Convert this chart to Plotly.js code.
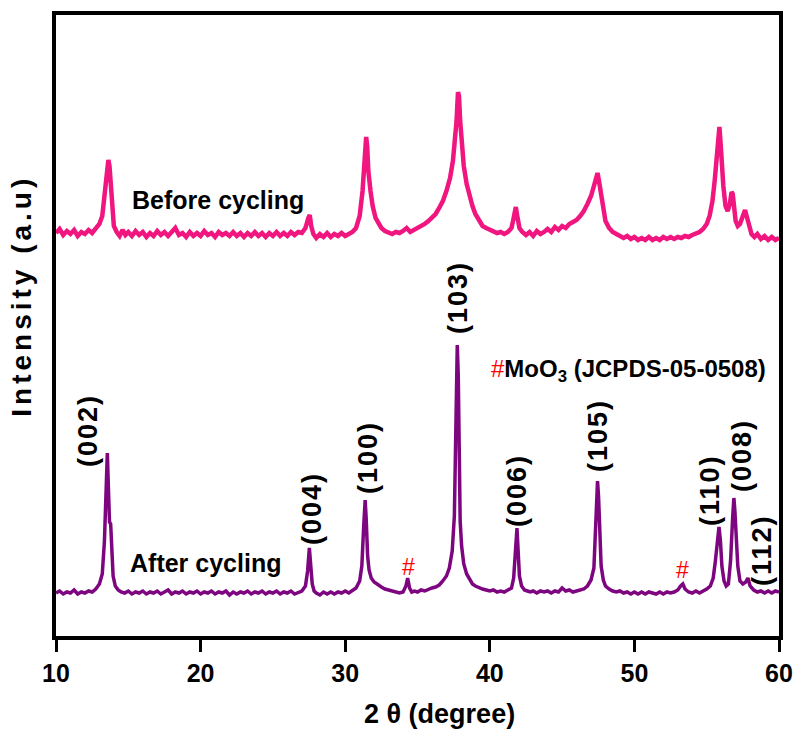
<!DOCTYPE html>
<html>
<head>
<meta charset="utf-8">
<script src="https://cdn.plot.ly/plotly-3.0.1.min.js"></script>
<style>html,body{margin:0;padding:0;background:#fff;}#chart{width:798px;height:731px;}</style>
</head>
<body>
<div id="chart"></div>
<script>
// ---- Data (2θ in degrees, intensity in arbitrary units) ----
var afterX = [10.0,10.25,10.5,10.75,11.0,11.25,11.5,11.75,12.0,12.25,12.5,12.75,13.0,13.2,13.35,13.45,13.55,13.62,13.7,13.78,13.85,13.95,14.1,14.3,14.5,14.75,15.0,15.25,15.5,15.75,16.0,16.25,16.5,16.75,17.0,17.25,17.5,17.75,18.0,18.25,18.5,18.75,19.0,19.25,19.5,19.75,20.0,20.25,20.5,20.75,21.0,21.25,21.5,21.75,22.0,22.25,22.5,22.75,23.0,23.25,23.5,23.75,24.0,24.25,24.5,24.75,25.0,25.25,25.5,25.75,26.0,26.25,26.5,26.75,27.0,27.25,27.4,27.52,27.62,27.72,27.85,28.0,28.25,28.5,28.75,29.0,29.25,29.5,29.75,30.0,30.25,30.5,30.75,31.0,31.15,31.28,31.38,31.45,31.55,31.65,31.8,32.0,32.25,32.5,32.75,33.0,33.25,33.5,33.75,34.0,34.2,34.32,34.45,34.6,34.8,35.0,35.25,35.5,35.75,36.0,36.25,36.5,36.75,37.0,37.2,37.4,37.55,37.65,37.75,37.82,37.88,37.95,38.05,38.2,38.4,38.6,38.8,39.0,39.25,39.5,39.75,40.0,40.25,40.5,40.75,41.0,41.25,41.5,41.65,41.78,41.88,41.96,42.05,42.2,42.4,42.6,42.8,43.0,43.25,43.5,43.75,44.0,44.25,44.5,44.75,45.0,45.25,45.5,45.75,46.0,46.25,46.5,46.75,47.0,47.2,47.35,47.45,47.52,47.6,47.7,47.85,48.0,48.25,48.5,48.75,49.0,49.25,49.5,49.75,50.0,50.25,50.5,50.75,51.0,51.25,51.5,51.75,52.0,52.25,52.5,52.75,53.0,53.2,53.35,53.5,53.75,54.0,54.25,54.5,54.75,55.0,55.25,55.45,55.6,55.75,55.85,55.95,56.05,56.2,56.35,56.5,56.65,56.8,56.88,56.95,57.05,57.15,57.3,57.5,57.7,57.85,58.0,58.25,58.5,58.75,59.0,59.25,59.5,59.75,60.0];
var afterY = [43,45,42,44,43,46,42,44,43,45,44,47,52,62,95,135,183,150,114,112,80,60,50,46,44,43,45,42,44,43,45,42,44,43,45,42,44,46,42,44,43,45,42,44,43,45,42,44,43,45,42,44,43,45,41,44,42,44,43,45,42,44,43,45,42,44,43,45,42,44,43,45,42,44,45,50,65,88,70,52,45,43,41,44,42,44,42,44,43,45,43,46,48,55,70,110,136,118,80,66,58,54,51,49,47,46,45,44,43,44,50,58,48,44,45,44,46,45,47,48,49,51,55,60,68,85,120,200,291,260,180,115,90,72,62,56,52,50,48,47,46,45,46,44,45,44,46,48,58,90,108,85,60,50,46,45,44,45,43,45,44,45,43,45,44,48,45,46,44,45,46,47,50,56,68,110,155,140,100,70,56,50,47,45,44,45,43,44,42,44,42,44,42,44,43,42,44,42,44,43,44,46,50,52,47,44,43,45,43,45,47,50,58,75,100,109,95,70,55,50,52,75,120,138,125,95,70,55,52,54,58,50,46,44,45,43,45,43,45,44];

var beforeX = [10.0,10.25,10.5,10.75,11.0,11.25,11.5,11.75,12.0,12.25,12.5,12.75,13.0,13.2,13.35,13.5,13.62,13.7,13.78,13.88,14.0,14.2,14.4,14.6,14.8,15.0,15.25,15.5,15.75,16.0,16.25,16.5,16.75,17.0,17.25,17.5,17.75,18.0,18.25,18.5,18.75,19.0,19.25,19.5,19.75,20.0,20.25,20.5,20.75,21.0,21.25,21.5,21.75,22.0,22.25,22.5,22.75,23.0,23.25,23.5,23.75,24.0,24.25,24.5,24.75,25.0,25.25,25.5,25.75,26.0,26.25,26.5,26.75,27.0,27.25,27.45,27.55,27.65,27.8,28.0,28.25,28.5,28.75,29.0,29.25,29.5,29.75,30.0,30.25,30.5,30.75,31.0,31.2,31.35,31.45,31.52,31.6,31.75,31.9,32.1,32.3,32.5,32.75,33.0,33.25,33.5,33.75,34.0,34.25,34.5,34.75,35.0,35.25,35.5,35.75,36.0,36.25,36.5,36.75,37.0,37.25,37.45,37.6,37.7,37.8,37.87,37.95,38.05,38.2,38.4,38.6,38.8,39.0,39.25,39.5,39.75,40.0,40.25,40.5,40.75,41.0,41.25,41.5,41.65,41.8,41.9,42.05,42.25,42.5,42.75,43.0,43.25,43.5,43.75,44.0,44.25,44.5,44.75,45.0,45.25,45.5,45.75,46.0,46.25,46.5,46.75,47.0,47.2,47.35,47.45,47.55,47.7,47.85,48.0,48.25,48.5,48.75,49.0,49.25,49.5,49.75,50.0,50.25,50.5,50.75,51.0,51.25,51.5,51.75,52.0,52.25,52.5,52.75,53.0,53.25,53.5,53.75,54.0,54.25,54.5,54.75,55.0,55.2,55.4,55.55,55.7,55.8,55.88,55.95,56.05,56.15,56.3,56.45,56.6,56.72,56.8,56.9,57.0,57.15,57.3,57.5,57.65,57.8,57.95,58.1,58.3,58.5,58.75,59.0,59.25,59.5,59.75,60.0];
var beforeY = [403,407,401,405,402,406,400,404,402,406,403,408,412,420,440,465,476,470,450,425,410,404,400,406,401,404,400,405,401,404,399,403,400,405,401,404,400,404,408,401,403,399,404,400,403,400,405,401,403,399,404,401,403,400,404,400,403,399,403,400,404,400,403,399,403,400,404,400,403,400,404,401,404,403,408,418,421,410,402,398,402,399,403,399,402,400,403,400,402,404,408,420,445,480,499,490,465,445,430,418,412,408,405,404,402,404,403,405,408,404,406,407,409,412,415,418,422,428,435,445,458,475,495,515,544,540,515,490,470,452,440,430,422,416,410,408,406,405,403,404,402,404,408,418,429,420,408,404,401,404,400,405,402,404,407,404,409,406,410,408,412,414,416,420,425,432,440,450,460,463,455,440,425,415,408,404,402,400,398,400,397,399,396,398,396,399,396,398,396,399,397,399,397,399,398,400,399,401,402,404,407,412,420,435,455,485,507,509,495,470,450,430,425,432,444,442,430,415,410,412,420,426,418,408,402,399,402,397,400,396,399,396,398];

var seriesNames = ["After cycling", "Before cycling"];
var xTicks = [10, 20, 30, 40, 50, 60];

// Peak labels (Miller indices) and their anchor positions in data units
var peakLabels = ["(002)", "(004)", "(100)", "(103)", "(006)", "(105)", "(110)", "(008)", "(112)"];
var peakLabelX = [12.21, 27.7, 31.58, 37.8, 41.88, 47.48, 55.23, 57.44, 58.82];
var peakLabelY = [206, 128, 178, 339, 146, 201, 146, 181, 86];
var hashX = [34.35, 53.3];
var hashY = [69, 66];

var narrowFont = "Liberation Sans Narrow, Arial Narrow, Liberation Sans, Arial, sans-serif";
var armFont = "Liberation Sans, Arial, sans-serif";

var traces = [
  {x: beforeX, y: beforeY, type: "scatter", mode: "lines", name: seriesNames[1],
   line: {color: "#F0157F", width: 4.5}, hoverinfo: "skip"},
  {x: afterX, y: afterY, type: "scatter", mode: "lines", name: seriesNames[0],
   line: {color: "#7E0580", width: 3.5}, hoverinfo: "skip"}
];

var annotations = [];
for (var i = 0; i < peakLabels.length; i++) {
  annotations.push({x: peakLabelX[i], y: peakLabelY[i], xref: "x", yref: "y",
    text: "<span style='letter-spacing:2px'><b>" + peakLabels[i] + "</b></span>", textangle: -90, showarrow: false,
    xanchor: "center", yanchor: "middle",
    font: {family: armFont, size: 27, color: "#000"}});
}
for (var j = 0; j < hashX.length; j++) {
  annotations.push({x: hashX[j], y: hashY[j], xref: "x", yref: "y",
    text: "#", showarrow: false, xanchor: "center", yanchor: "middle",
    font: {family: armFont, size: 23, color: "#FF0000"}});
}
annotations.push({x: 15.1, y: 436, xref: "x", yref: "y", text: "<b>" + seriesNames[1] + "</b>",
  showarrow: false, xanchor: "left", yanchor: "middle", font: {family: armFont, size: 25, color: "#000"}});
annotations.push({x: 14.95, y: 73, xref: "x", yref: "y", text: "<b>" + seriesNames[0] + "</b>",
  showarrow: false, xanchor: "left", yanchor: "middle", font: {family: armFont, size: 25, color: "#000"}});
annotations.push({x: 39.95, y: 266, xref: "x", yref: "y",
  text: "<span style='color:#FF0000'>#</span><b>MoO<sub>3</sub> (JCPDS-05-0508)</b>",
  showarrow: false, xanchor: "left", yanchor: "middle", font: {family: armFont, size: 24, color: "#000"}});
annotations.push({x: -0.047, y: 0.548, xref: "paper", yref: "paper",
  text: "<b><span style='letter-spacing:4px'>Intensity (a.u)</span></b>",
  textangle: -90, showarrow: false, xanchor: "center", yanchor: "middle",
  font: {family: armFont, size: 28, color: "#000"}});
annotations.push({x: 0.531, y: -0.125, xref: "paper", yref: "paper", text: "<b>2 θ (degree)</b>",
  showarrow: false, xanchor: "center", yanchor: "middle",
  font: {family: narrowFont, size: 27, color: "#000"}});

var layout = {
  width: 798, height: 731,
  margin: {l: 56, r: 19, t: 15, b: 95},
  paper_bgcolor: "#fff", plot_bgcolor: "#fff",
  showlegend: false,
  xaxis: {range: [10, 60], tickvals: xTicks, ticktext: xTicks.map(String),
    ticks: "outside", ticklen: 12, tickwidth: 3, tickcolor: "#000",
    showline: true, linewidth: 4, linecolor: "#000", mirror: true,
    showgrid: false, zeroline: false,
    tickfont: {family: narrowFont, size: 25, color: "#000", weight: "bold"}},
  yaxis: {range: [0, 621], showticklabels: false, ticks: "",
    showline: true, linewidth: 4, linecolor: "#000", mirror: true,
    showgrid: false, zeroline: false},
  annotations: annotations
};

Plotly.newPlot("chart", traces, layout, {staticPlot: true, displayModeBar: false});
</script>
</body>
</html>
